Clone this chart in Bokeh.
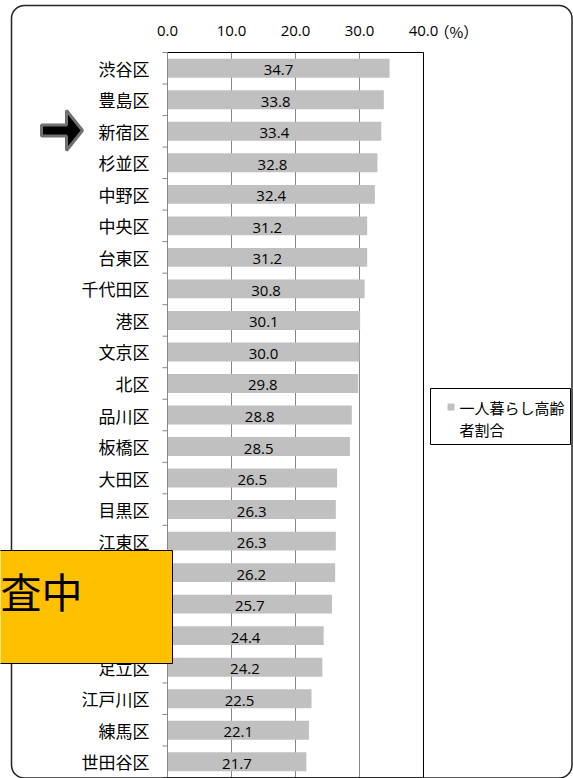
from bokeh.plotting import figure
from bokeh.models import Range1d, BoxAnnotation, Label, PolyAnnotation, ColumnDataSource
from bokeh.core.properties import value
from bokeh.embed import file_html
from bokeh.resources import INLINE

# ---- data ----
wards = ["渋谷区", "豊島区", "新宿区", "杉並区", "中野区", "中央区", "台東区", "千代田区",
         "港区", "文京区", "北区", "品川区", "板橋区", "大田区", "目黒区", "江東区",
         "荒川区", "墨田区", "葛飾区", "足立区", "江戸川区", "練馬区", "世田谷区"]
rates = [34.7, 33.8, 33.4, 32.8, 32.4, 31.2, 31.2, 30.8, 30.1, 30.0, 29.8, 28.8,
         28.5, 26.5, 26.3, 26.3, 26.2, 25.7, 24.4, 24.2, 22.5, 22.1, 21.7]
x_ticks = [0, 10, 20, 30, 40]
series_name = ["一人暮らし高齢", "者割合"]
unit_label = "（%）"
overlay_text = "査中"

JP = "Noto Sans CJK JP"
NUM = "Open Sans"

# ---- layout (canvas pixels) ----
W, H = 573, 778
PL, PR, PT, PB = 167, 423, 52, 777          # plot area edges
n = len(wards)
xmax = x_ticks[-1]
px_x = (PR - PL) / xmax                      # pixels per x unit
px_y = (PB - PT) / n                         # pixels per row
x_range = Range1d(-PL / px_x, (W - PL) / px_x)
y_range = Range1d(-0.5 + (H - PT) / px_y, -0.5 - PT / px_y)
y_top, y_bot = -0.5, n - 0.5

idx = list(range(n))
src = ColumnDataSource(dict(
    y=idx, rate=rates, mid=[r / 2 for r in rates], name=wards,
    txt=[f"{r:.1f}" for r in rates]))

p = figure(width=W, height=H, output_backend="svg", toolbar_location=None,
           x_range=x_range, y_range=y_range, min_border=0,
           x_axis_type=None, y_axis_type=None)
p.background_fill_color = "white"
p.border_fill_color = "white"
p.outline_line_color = None
p.xgrid.visible = False
p.ygrid.visible = False

GRAY = "#868686"

# gridlines (value axis)
p.segment(x0=x_ticks[1:-1], x1=x_ticks[1:-1], y0=y_top, y1=y_bot,
          line_color=GRAY, line_width=1)

# bars
p.hbar(y="y", right="rate", left=0, height=0.6, source=src,
       fill_color="#C0C0C0", line_color=None)

# plot area frame: top/right black, bottom dark, left axis gray
p.segment(x0=[0, xmax], x1=[xmax, xmax], y0=[y_top, y_top], y1=[y_top, y_bot],
          line_color="black", line_width=1)
p.segment(x0=[0], x1=[xmax], y0=[y_bot], y1=[y_bot], line_color="#404040", line_width=1)
p.segment(x0=[0], x1=[0], y0=[y_top], y1=[y_bot], line_color=GRAY, line_width=1)

# category-axis tick marks between categories
bounds = [i - 0.5 for i in range(n + 1)]
p.segment(x0=[-5 / px_x] * len(bounds), x1=[0] * len(bounds), y0=bounds, y1=bounds,
          line_color=GRAY, line_width=1)

# category labels
p.text(x=0, y="y", text="name", source=src, text_align="right", text_baseline="middle",
       x_offset=-18, text_font=value(JP), text_font_size=value("17px"), text_color="black")

# value-axis tick labels (top)
p.text(x=x_ticks, y=[y_top] * len(x_ticks), text=[f"{t:.1f}" for t in x_ticks],
       text_align="center", text_baseline="middle", y_offset=-21.5,
       text_font=value(NUM), text_font_size=value("15px"), text_color="black")

# data labels
p.text(x="mid", y="y", text="txt", source=src, text_align="center",
       text_baseline="middle", y_offset=2, text_font=value(NUM),
       text_font_size=value("15px"), text_color="black")

# unit label
p.add_layout(Label(x=434, y=30.5, x_units="canvas", y_units="canvas", text=unit_label,
                   text_font=JP, text_font_size="15px", text_baseline="middle",
                   text_align="left", text_color="black"))

def cbox(l, r, t, b, **kw):
    return BoxAnnotation(left=l, right=r, top=t, bottom=b,
                         left_units="canvas", right_units="canvas",
                         top_units="canvas", bottom_units="canvas", **kw)

# legend (manual)
p.add_layout(cbox(430, 570, 388, 444, fill_color="white", fill_alpha=1,
                  line_color="black", line_alpha=1, line_width=1))
p.add_layout(cbox(447, 454, 403, 410, fill_color="#C0C0C0", fill_alpha=1,
                  line_color=None))
for k, line in enumerate(series_name):
    p.add_layout(Label(x=459, y=406.5 + 22 * k, x_units="canvas", y_units="canvas",
                       text=line, text_font=JP, text_font_size="15px",
                       text_baseline="middle", text_align="left", text_color="black"))

# outer rounded border
p.add_layout(cbox(11, 571.5, 5, 777.5, fill_alpha=0, line_color="#222222",
                  line_alpha=1, line_width=1.5, border_radius=13))

# arrow pointing at 新宿区
p.add_layout(PolyAnnotation(xs=[41, 66, 66, 82, 66, 66, 41],
                            ys=[124.5, 124.5, 110, 130, 150, 135.5, 135.5],
                            xs_units="canvas", ys_units="canvas",
                            fill_color="black", fill_alpha=1, line_color="#707070",
                            line_alpha=1, line_width=3))

# yellow overlay box
p.add_layout(cbox(-5, 172, 550, 663, fill_color="#FFC000", fill_alpha=1,
                  line_color="black", line_alpha=1, line_width=1))
p.add_layout(Label(x=0, y=589, x_units="canvas", y_units="canvas", text=overlay_text,
                   text_font=JP, text_font_size="41px", text_baseline="middle",
                   text_align="left", text_color="black"))

open("out.html", "w").write(file_html(p, INLINE))
